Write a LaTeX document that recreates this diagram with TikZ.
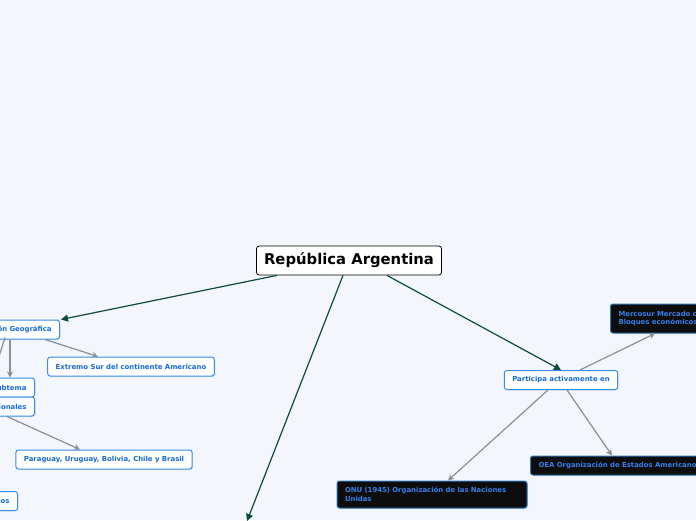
\documentclass[tikz,border=0pt]{standalone}
\usepackage{fontspec}
\setmainfont{DejaVu Sans}
\usetikzlibrary{arrows.meta,shadows}
\definecolor{fondo}{HTML}{F3F6FD}
\definecolor{verde}{HTML}{0D4B3F}
\definecolor{azul}{HTML}{3A8EE6}
\definecolor{texto}{HTML}{1769D6}
\definecolor{gris}{HTML}{8A8F99}

\begin{document}
\begin{tikzpicture}[x=1pt, y=-1pt,
    raiz/.style={draw=black, fill=white, rounded corners=2.5pt, line width=0.8pt,
        font=\bfseries\fontsize{14.8}{16}\selectfont, inner xsep=7.5pt, minimum height=29pt},
    tema/.style={draw=azul, fill=white, rounded corners=2.5pt, line width=1pt,
        text=texto, font=\bfseries\fontsize{6.9}{8.8}\selectfont, inner xsep=8pt,
        minimum height=19pt, drop shadow={opacity=0.15, shadow xshift=1pt, shadow yshift=-1pt}},
    oscuro/.style={tema, fill=black!95, draw=azul!80!black, text=azul!90!blue, align=left},
    enlace/.style={verde, line width=1.2pt, -{Triangle[length=7pt,width=7pt]}},
    rama/.style={gris, line width=1.2pt, -{Stealth[length=6pt,width=6pt]}}]
    \path[use as bounding box, fill=fondo] (0,0) rectangle (696,520);
    \clip (0,0) rectangle (696,520);

    % Central topic
    \node[raiz] (arg) at (349,260.5) {República Argentina};

    % Left branch
    \node[tema, anchor=east] (geo) at (60,329.5) {Ubicación Geográfica};
    \node[tema] (ext) at (131,366.5) {Extremo Sur del continente Americano};
    \node[tema, anchor=east] (sub) at (35,387.5) {Subtema};
    \node[tema, anchor=east] (lim) at (35,406.5) {Límites Internacionales};
    \node[tema] (par) at (104,459.5) {Paraguay, Uruguay, Bolivia, Chile y Brasil};
    \node[tema, anchor=east] (laz) at (18,501) {Lazos};
    \coordinate (fuera) at (-10,385);
    \coordinate (abajo) at (247,521);

    % Right branch
    \node[tema] (part) at (561,380) {Participa activamente en};
    \node[oscuro, anchor=west, minimum height=29pt] (merc) at (610,318.5)
        {Mercosur Mercado común del Sur\\Bloques económicos};
    \node[oscuro, anchor=west] (oea) at (530,465.5) {OEA Organización de Estados Americanos};
    \node[oscuro, minimum height=27pt, text width=174pt] (onu) at (432,494.5)
        {ONU (1945) Organización de las Naciones Unidas};

    % Main connectors
    \draw[enlace] ([xshift=-72pt]arg.south) -- ([xshift=1pt]geo.north east);
    \draw[enlace] ([xshift=-6pt]arg.south) -- (abajo);
    \draw[enlace] ([xshift=38pt]arg.south) -- (part.north);

    % Sub connectors
    \draw[rama] ([xshift=-15pt]geo.south east) -- ([xshift=-33pt]ext.north);
    \draw[rama] ([xshift=-50pt]geo.south east) -- ([xshift=-25pt]sub.north east);
    \draw[gris, line width=1.2pt] ([xshift=-55pt,yshift=2pt]geo.south east) -- (fuera);
    \draw[rama] ([xshift=-28pt]lim.south east) -- ([xshift=-24pt]par.north);
    \draw[rama] ([xshift=19pt]part.north) -- ([xshift=45pt]merc.south west);
    \draw[rama] ([xshift=-13pt]part.south) -- ([xshift=16pt]onu.north);
    \draw[rama] ([xshift=6pt]part.south) -- ([xshift=82pt]oea.north west);
\end{tikzpicture}
\end{document}
